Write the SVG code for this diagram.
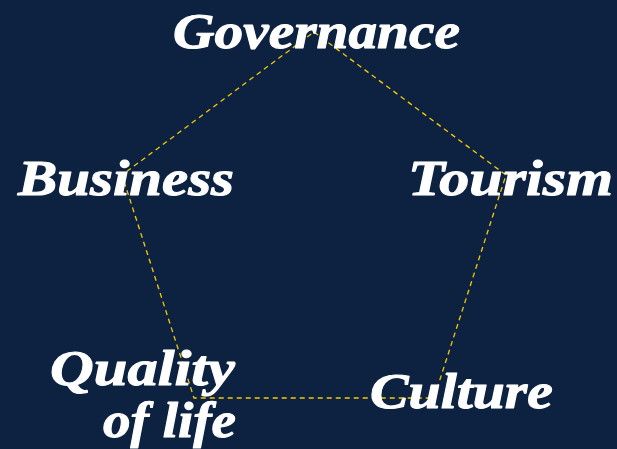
<svg xmlns="http://www.w3.org/2000/svg" width="617" height="449" viewBox="0 0 617 449">
<style>
.lbl{font-family:"Liberation Serif","DejaVu Serif",serif;font-weight:bold;font-style:italic;font-size:50px;fill:#ffffff;stroke:#ffffff;stroke-width:1;stroke-linejoin:round}
.edge{fill:none;stroke:#f7c800;stroke-width:1.3;stroke-dasharray:5 4}
</style>
<rect width="617" height="449" fill="#0c2240"/>
<g id="connectors">
<polygon class="edge" points="314,32 506,175 434,398 194,398 122,175"/>
</g>
<g id="governance"><text class="lbl" x="173" y="48" textLength="287" lengthAdjust="spacingAndGlyphs">Governance</text></g>
<g id="business"><text class="lbl" x="18" y="195" textLength="216" lengthAdjust="spacingAndGlyphs">Business</text></g>
<g id="tourism"><text class="lbl" x="408" y="195" textLength="205" lengthAdjust="spacingAndGlyphs">Tourism</text></g>
<g id="quality"><text class="lbl" x="50" y="385" textLength="185" lengthAdjust="spacingAndGlyphs">Quality</text><text class="lbl" x="103" y="437" textLength="133" lengthAdjust="spacingAndGlyphs">of life</text></g>
<g id="culture"><text class="lbl" x="370" y="408" textLength="183" lengthAdjust="spacingAndGlyphs">Culture</text></g>
</svg>
